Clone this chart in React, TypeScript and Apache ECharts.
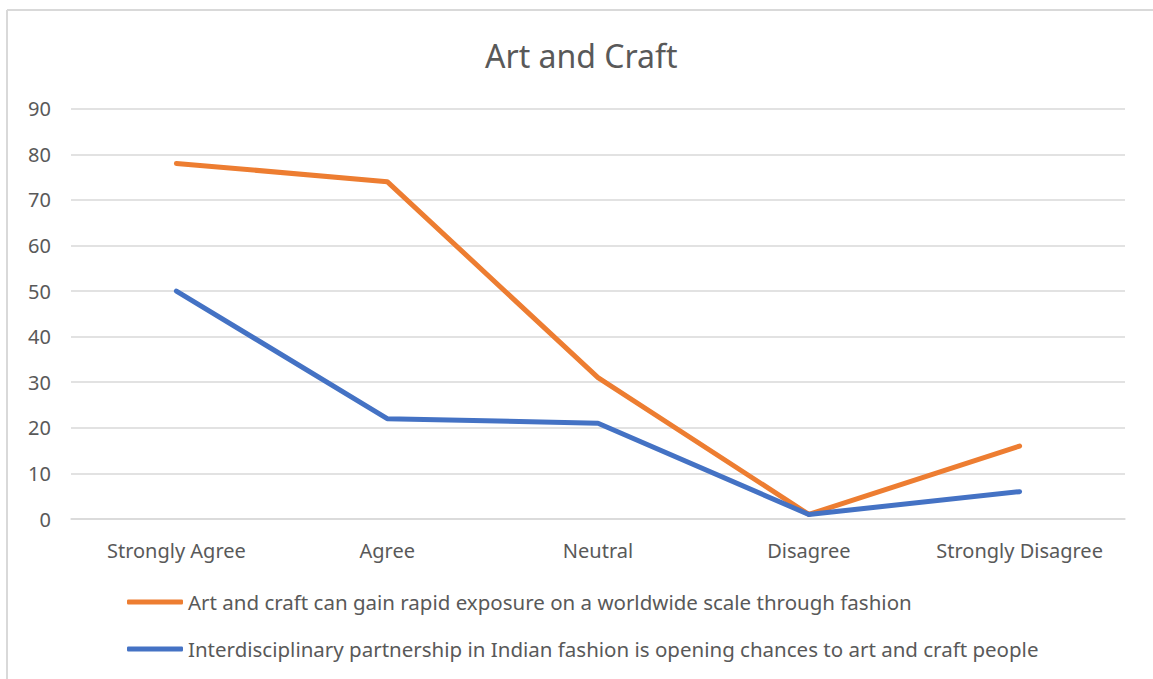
import React, { useEffect, useRef } from "react";
import * as echarts from "echarts";

const categories = ["Strongly Agree", "Agree", "Neutral", "Disagree", "Strongly Disagree"];
const seriesNames = [
  "Art and craft can gain rapid exposure on a worldwide scale through fashion",
  "Interdisciplinary partnership in Indian fashion is opening chances to art and craft people",
];
const artValues = [78, 74, 31, 1, 16];
const interValues = [50, 22, 21, 1, 6];
const yTicks = { min: 0, max: 90, interval: 10 };

const FONT = "'Noto Sans', 'Open Sans', sans-serif";
const TEXT = "#595959";

export default function App() {
  const ref = useRef<HTMLDivElement>(null);
  useEffect(() => {
    document.body.style.margin = "0";
    const chart = echarts.init(ref.current!, null, { renderer: "svg" });
    chart.setOption({
      animation: false,
      backgroundColor: "#ffffff",
      title: {
        text: "Art and Craft",
        left: 480,
        top: 34,
        textStyle: { fontFamily: FONT, fontSize: 32, fontWeight: "normal", color: TEXT },
      },
      grid: { left: 71, right: 28, top: 108.7, bottom: 160, containLabel: false },
      xAxis: {
        type: "category",
        data: categories,
        boundaryGap: true,
        axisLine: { show: true, lineStyle: { color: "#d9d9d9", width: 1.5 } },
        axisTick: { show: false },
        axisLabel: { color: TEXT, fontFamily: FONT, fontSize: 20, margin: 21, interval: 0 },
      },
      yAxis: {
        type: "value",
        min: yTicks.min,
        max: yTicks.max,
        interval: yTicks.interval,
        axisLine: { show: false },
        axisTick: { show: false },
        axisLabel: { color: TEXT, fontFamily: FONT, fontSize: 20, margin: 20 },
        splitLine: { lineStyle: { color: "#d9d9d9", width: 1.5 } },
      },
      legend: {
        orient: "vertical",
        left: 122,
        top: 586,
        itemWidth: 56,
        itemHeight: 5,
        itemGap: 25,
        icon: "roundRect",
        textStyle: { color: TEXT, fontFamily: FONT, fontSize: 20.5, lineHeight: 22 },
        data: seriesNames,
      },
      graphic: [
        { type: "line", shape: { x1: 7, y1: 10, x2: 1153, y2: 10 }, style: { stroke: "#d9d9d9", lineWidth: 2 } },
        { type: "line", shape: { x1: 7, y1: 10, x2: 7, y2: 679 }, style: { stroke: "#d9d9d9", lineWidth: 2 } },
      ],
      series: [
        {
          name: seriesNames[0],
          type: "line",
          data: artValues,
          symbol: "none",
          itemStyle: { color: "#ED7D31" },
          lineStyle: { color: "#ED7D31", width: 5, cap: "round", join: "round" },
        },
        {
          name: seriesNames[1],
          type: "line",
          data: interValues,
          symbol: "none",
          itemStyle: { color: "#4472C4" },
          lineStyle: { color: "#4472C4", width: 5, cap: "round", join: "round" },
        },
      ],
    });
    return () => chart.dispose();
  }, []);
  return <div ref={ref} style={{ width: 1153, height: 679 }} />;
}
